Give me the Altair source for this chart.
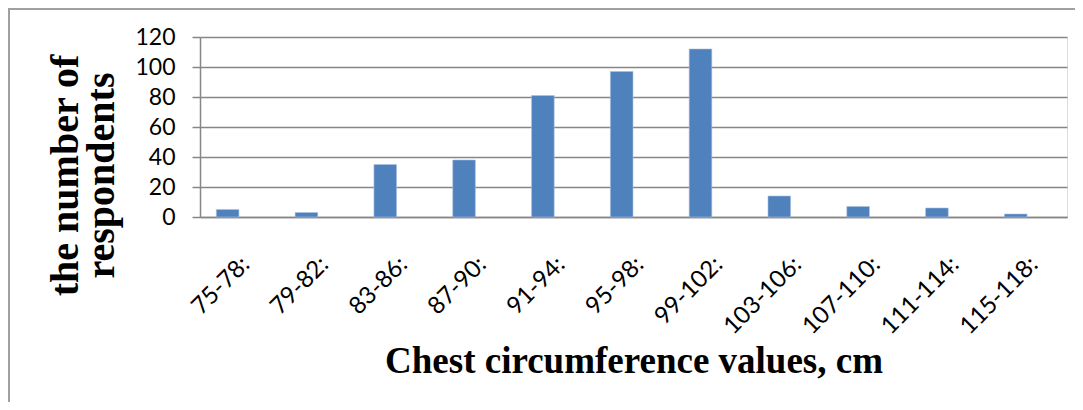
import altair as alt
import pandas as pd

categories = ["75-78:", "79-82:", "83-86:", "87-90:", "91-94:", "95-98:",
              "99-102:", "103-106:", "107-110:", "111-114:", "115-118:"]
counts = [5, 3, 35, 38, 81, 97, 112, 14, 7, 6, 2]
y_ticks = [0, 20, 40, 60, 80, 100, 120]

df = pd.DataFrame({"range": categories, "count": counts})

GRAY = "#868686"
LABEL_FONT = "Lato"
TITLE_FONT = "Liberation Serif"

bars = alt.Chart(df).mark_bar(color="#4F81BD", stroke="#A9C1E0", strokeWidth=0.6).encode(
    x=alt.X("range:N", sort=categories,
            scale=alt.Scale(paddingInner=0.713, paddingOuter=0.357, align=0.29),
            axis=alt.Axis(title="Chest circumference values, cm",
                          titleFont=TITLE_FONT, titleFontSize=37, titleFontWeight="bold",
                          titleColor="black", titleBaseline="alphabetic",
                          titleX=433.5, titleY=155, titleAlign="center",
                          labelAngle=315, labelFont=LABEL_FONT, labelFontSize=24,
                          labelColor="black", labelPadding=35, labelOffset=10,
                          ticks=False, domainColor=GRAY, domainWidth=1.5,
                          grid=False, labelOverlap=False)),
    y=alt.Y("count:Q",
            scale=alt.Scale(domain=[0, 120], nice=False),
            axis=alt.Axis(title=["the number of", "respondents"], values=y_ticks,
                          titleFont=TITLE_FONT, titleFontSize=40, titleFontWeight="bold",
                          titleColor="black", titleAngle=270, titleAlign="center",
                          titleBaseline="middle", titleLineHeight=36,
                          titleX=-135, titleY=138,
                          labelFont=LABEL_FONT, labelFontSize=23, labelColor="black",
                          labelPadding=17, tickSize=8, tickColor=GRAY, tickWidth=1.5,
                          domainColor=GRAY, domainWidth=1.5,
                          grid=True, gridColor=GRAY, gridWidth=1.5)),
)

frame_df = pd.DataFrame({"k": [0]})
top_border = alt.Chart(frame_df).mark_rule(color="#A0A0A0", strokeWidth=2).encode(
    x=alt.value(-192), x2=alt.value(880), y=alt.value(-28)
)
left_border = alt.Chart(frame_df).mark_rule(color="#A0A0A0", strokeWidth=2).encode(
    x=alt.value(-191), y=alt.value(-28), y2=alt.value(380)
)

chart = alt.layer(bars, top_border, left_border).properties(
    width=867, height=180,
    padding={"left": 192, "top": 29, "right": 8, "bottom": 185},
    autosize=alt.AutoSizeParams(type="none"),
).configure_view(stroke=None).configure(background="white")

chart.save("out.html", embed_options={"renderer": "svg", "actions": False})
